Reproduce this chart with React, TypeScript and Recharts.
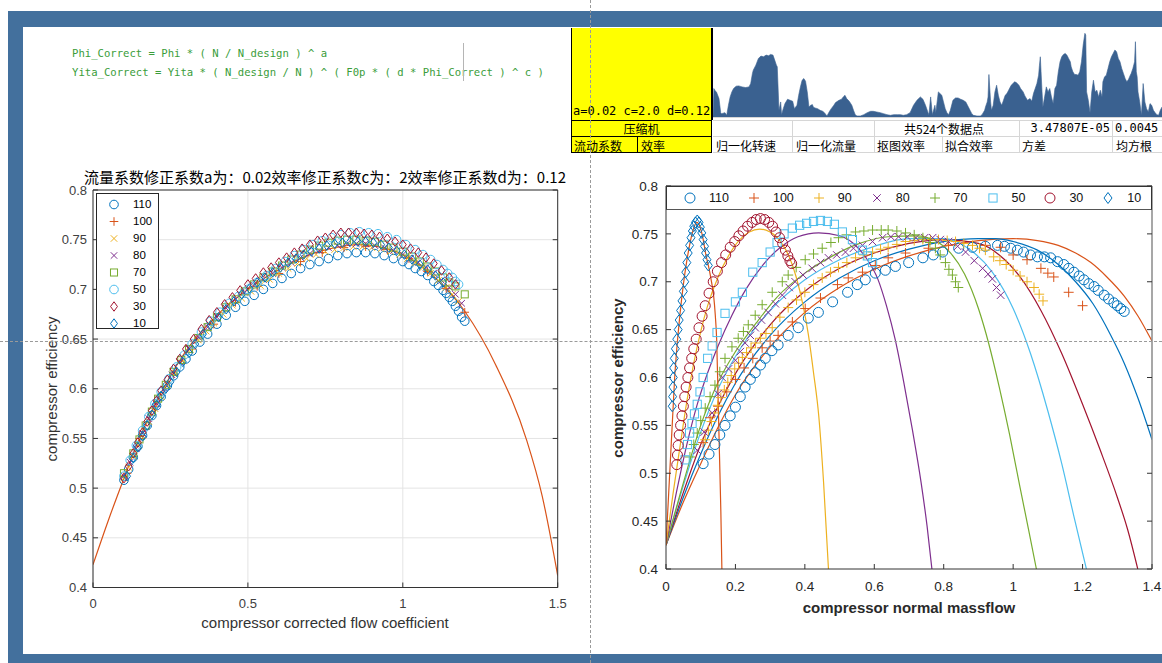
import React from 'react';
import { ComposedChart, Scatter, Line, XAxis, YAxis, CartesianGrid, AreaChart, Area, Legend, Label } from 'recharts';

type Pt = [number, number];

// ---------- series meta ----------
const SPEED_LABELS = ['110', '100', '90', '80', '70', '50', '30', '10'];
const SERIES_COLORS = ['#0072BD', '#D95319', '#EDB120', '#7E2F8E', '#77AC30', '#4DBEEE', '#A2142F', '#0072BD'];
const LEFT_MARKERS = ['o', '+', 'x', 'x', 's', 'o', 'd', 'd'];
const RIGHT_MARKERS = ['o', '+', '+', 'x', '+', 's', 'o', 'd'];
const RIGHT_FIT_COLORS = ['#D95319', '#0072BD', '#A2142F', '#4DBEEE', '#77AC30', '#7E2F8E', '#EDB120', '#D95319'];

const Y_TICKS = [0.4, 0.45, 0.5, 0.55, 0.6, 0.65, 0.7, 0.75, 0.8];
const LEFT_X_TICKS = [0, 0.5, 1, 1.5];
const RIGHT_X_TICKS = [0, 0.2, 0.4, 0.6, 0.8, 1, 1.2, 1.4];

// ---------- left chart (corrected) ----------
const L_110: Pt[] = [[0.10,0.508],[0.115,0.519],[0.13,0.531],[0.145,0.542],[0.16,0.553],[0.175,0.563],[0.19,0.573],[0.205,0.583],[0.22,0.592],[0.24,0.603],[0.26,0.613],[0.28,0.622],[0.30,0.630],[0.32,0.638],[0.345,0.647],[0.37,0.655],[0.40,0.665],[0.43,0.674],[0.46,0.682],[0.49,0.688],[0.52,0.694],[0.55,0.700],[0.58,0.706],[0.61,0.711],[0.64,0.716],[0.67,0.721],[0.70,0.725],[0.73,0.728],[0.76,0.731],[0.79,0.734],[0.82,0.736],[0.85,0.737],[0.88,0.737],[0.91,0.736],[0.94,0.734],[0.97,0.731],[1.00,0.728],[1.02,0.725],[1.04,0.721],[1.06,0.718],[1.08,0.714],[1.10,0.708],[1.115,0.704],[1.13,0.699],[1.14,0.696],[1.15,0.692],[1.16,0.688],[1.17,0.683],[1.18,0.678],[1.19,0.672],[1.20,0.668]];
const L_100: Pt[] = [[0.11,0.515],[0.15,0.550],[0.20,0.582],[0.26,0.614],[0.32,0.640],[0.39,0.665],[0.46,0.687],[0.53,0.703],[0.60,0.716],[0.67,0.728],[0.74,0.737],[0.81,0.742],[0.88,0.743],[0.95,0.740],[1.02,0.731],[1.08,0.718],[1.14,0.701],[1.20,0.677]];
const L_90: Pt[] = [[0.10,0.510],[0.115,0.521],[0.13,0.532],[0.145,0.543],[0.16,0.553],[0.18,0.567],[0.20,0.580],[0.22,0.592],[0.24,0.604],[0.265,0.616],[0.29,0.628],[0.315,0.639],[0.34,0.649],[0.365,0.658],[0.39,0.666],[0.42,0.675],[0.45,0.684],[0.48,0.691],[0.51,0.698],[0.54,0.704],[0.57,0.710],[0.60,0.716],[0.63,0.721],[0.66,0.726],[0.69,0.731],[0.72,0.735],[0.75,0.738],[0.78,0.740],[0.81,0.742],[0.84,0.743],[0.87,0.743],[0.90,0.742],[0.93,0.741],[0.96,0.738],[0.99,0.735],[1.015,0.731],[1.04,0.727],[1.065,0.722],[1.09,0.716],[1.115,0.709],[1.14,0.702],[1.16,0.695],[1.18,0.688]];
const L_80: Pt[] = [[0.10,0.512],[0.12,0.526],[0.14,0.540],[0.16,0.555],[0.18,0.570],[0.205,0.585],[0.23,0.600],[0.255,0.614],[0.28,0.627],[0.31,0.640],[0.34,0.652],[0.37,0.662],[0.40,0.672],[0.43,0.681],[0.46,0.690],[0.49,0.697],[0.52,0.704],[0.55,0.710],[0.58,0.716],[0.61,0.722],[0.64,0.727],[0.67,0.732],[0.70,0.736],[0.73,0.739],[0.76,0.742],[0.79,0.744],[0.82,0.746],[0.85,0.746],[0.88,0.746],[0.91,0.744],[0.94,0.742],[0.97,0.739],[1.00,0.735],[1.025,0.731],[1.05,0.727],[1.075,0.722],[1.10,0.716],[1.125,0.709],[1.15,0.702],[1.17,0.695],[1.19,0.686]];
const L_70: Pt[] = [[0.10,0.515],[0.13,0.535],[0.15,0.549],[0.17,0.563],[0.19,0.577],[0.21,0.590],[0.235,0.604],[0.26,0.617],[0.285,0.629],[0.31,0.640],[0.34,0.651],[0.37,0.662],[0.40,0.672],[0.43,0.682],[0.46,0.690],[0.49,0.698],[0.52,0.705],[0.55,0.712],[0.58,0.718],[0.61,0.724],[0.64,0.730],[0.67,0.735],[0.70,0.740],[0.73,0.744],[0.76,0.747],[0.79,0.749],[0.82,0.750],[0.85,0.750],[0.88,0.749],[0.91,0.748],[0.94,0.745],[0.97,0.742],[1.00,0.738],[1.03,0.733],[1.055,0.728],[1.08,0.723],[1.105,0.718],[1.13,0.712],[1.15,0.707],[1.17,0.703],[1.20,0.695]];
const L_50: Pt[] = [[0.10,0.512],[0.12,0.528],[0.14,0.543],[0.16,0.558],[0.18,0.572],[0.20,0.585],[0.22,0.597],[0.245,0.610],[0.27,0.622],[0.295,0.634],[0.32,0.645],[0.35,0.657],[0.38,0.668],[0.41,0.677],[0.44,0.686],[0.47,0.693],[0.50,0.700],[0.53,0.707],[0.56,0.714],[0.59,0.721],[0.62,0.728],[0.65,0.734],[0.68,0.740],[0.71,0.745],[0.74,0.749],[0.77,0.752],[0.80,0.755],[0.83,0.757],[0.86,0.758],[0.89,0.757],[0.92,0.756],[0.95,0.753],[0.98,0.750],[1.01,0.745],[1.04,0.740],[1.065,0.735],[1.09,0.730],[1.11,0.725],[1.13,0.720],[1.145,0.716],[1.16,0.712],[1.17,0.708],[1.18,0.705]];
const L_30: Pt[] = [[0.10,0.510],[0.115,0.522],[0.13,0.535],[0.145,0.546],[0.16,0.556],[0.175,0.567],[0.19,0.578],[0.205,0.588],[0.22,0.598],[0.24,0.609],[0.26,0.620],[0.28,0.630],[0.30,0.640],[0.325,0.650],[0.35,0.660],[0.375,0.669],[0.40,0.677],[0.425,0.685],[0.45,0.692],[0.475,0.699],[0.50,0.705],[0.525,0.711],[0.55,0.717],[0.575,0.722],[0.60,0.727],[0.625,0.732],[0.65,0.737],[0.675,0.741],[0.70,0.745],[0.725,0.749],[0.75,0.752],[0.775,0.755],[0.80,0.757],[0.825,0.757],[0.85,0.757],[0.875,0.756],[0.90,0.755],[0.925,0.753],[0.95,0.751],[0.975,0.748],[1.00,0.745],[1.025,0.741],[1.05,0.737],[1.075,0.732],[1.10,0.726],[1.125,0.719],[1.15,0.712],[1.17,0.705]];
const L_10: Pt[] = [[0.11,0.512],[0.13,0.530],[0.145,0.541],[0.16,0.552],[0.175,0.563],[0.19,0.574],[0.205,0.584],[0.22,0.593],[0.235,0.600],[0.25,0.607],[0.27,0.617],[0.29,0.627],[0.31,0.636],[0.33,0.645],[0.355,0.655],[0.38,0.664],[0.405,0.672],[0.43,0.680],[0.455,0.688],[0.48,0.695],[0.505,0.701],[0.53,0.707],[0.555,0.712],[0.58,0.717],[0.605,0.722],[0.63,0.727],[0.655,0.731],[0.68,0.735],[0.705,0.738],[0.73,0.741],[0.755,0.744],[0.78,0.746],[0.805,0.747],[0.83,0.748],[0.855,0.748],[0.88,0.748],[0.905,0.747],[0.93,0.745],[0.955,0.742],[0.98,0.739],[1.005,0.735],[1.03,0.730],[1.055,0.725],[1.08,0.720],[1.105,0.714],[1.13,0.707]];
const L_FIT: Pt[] = [[0,0.423],[0.05,0.468],[0.10,0.510],[0.15,0.550],[0.20,0.584],[0.25,0.613],[0.30,0.638],[0.40,0.674],[0.50,0.700],[0.60,0.720],[0.70,0.735],[0.80,0.743],[0.85,0.745],[0.90,0.744],[1.00,0.735],[1.10,0.713],[1.20,0.678],[1.30,0.624],[1.40,0.548],[1.45,0.492],[1.50,0.412]];

// ---------- right chart (raw) ----------
const R_110: Pt[] = [[0.107,0.510],[0.124,0.520],[0.141,0.530],[0.155,0.540],[0.170,0.550],[0.185,0.560],[0.200,0.569],[0.214,0.580],[0.228,0.590],[0.243,0.598],[0.257,0.605],[0.272,0.613],[0.286,0.620],[0.305,0.628],[0.323,0.634],[0.352,0.644],[0.381,0.652],[0.410,0.662],[0.439,0.668],[0.480,0.679],[0.523,0.689],[0.551,0.697],[0.574,0.702],[0.603,0.709],[0.632,0.712],[0.661,0.716],[0.699,0.720],[0.740,0.725],[0.770,0.728],[0.797,0.731],[0.843,0.735],[0.883,0.736],[0.920,0.737],[0.955,0.738],[0.975,0.737],[0.993,0.735],[1.012,0.733],[1.030,0.731],[1.050,0.728],[1.070,0.726],[1.090,0.726],[1.108,0.725],[1.128,0.721],[1.146,0.718],[1.160,0.714],[1.175,0.710],[1.190,0.706],[1.204,0.702],[1.218,0.698],[1.233,0.695],[1.245,0.691],[1.262,0.686],[1.275,0.682],[1.290,0.678],[1.300,0.675],[1.310,0.672],[1.320,0.669]];
const R_100: Pt[] = [[0.107,0.532],[0.127,0.558],[0.150,0.570],[0.175,0.585],[0.200,0.598],[0.225,0.610],[0.250,0.620],[0.277,0.631],[0.300,0.638],[0.323,0.644],[0.364,0.658],[0.401,0.672],[0.445,0.683],[0.494,0.697],[0.525,0.704],[0.566,0.710],[0.603,0.717],[0.640,0.725],[0.690,0.730],[0.756,0.735],[0.814,0.738],[0.920,0.738],[0.964,0.736],[1.000,0.728],[1.040,0.723],[1.080,0.714],[1.100,0.709],[1.117,0.705],[1.160,0.689],[1.200,0.675]];
const R_90: Pt[] = [[0.113,0.535],[0.122,0.545],[0.131,0.554],[0.140,0.563],[0.149,0.571],[0.158,0.579],[0.168,0.587],[0.178,0.595],[0.188,0.602],[0.198,0.609],[0.209,0.615],[0.220,0.621],[0.232,0.626],[0.245,0.631],[0.258,0.636],[0.272,0.641],[0.288,0.646],[0.306,0.652],[0.328,0.663],[0.352,0.673],[0.376,0.681],[0.400,0.689],[0.425,0.697],[0.450,0.704],[0.474,0.710],[0.497,0.715],[0.521,0.720],[0.546,0.725],[0.570,0.728],[0.595,0.731],[0.618,0.734],[0.640,0.736],[0.665,0.739],[0.690,0.742],[0.715,0.743],[0.740,0.744],[0.762,0.744],[0.785,0.744],[0.810,0.743],[0.834,0.742],[0.858,0.740],[0.883,0.738],[0.903,0.735],[0.920,0.733],[0.944,0.726],[0.962,0.722],[0.980,0.718],[1.000,0.712],[1.020,0.706],[1.040,0.700],[1.060,0.694],[1.075,0.687],[1.086,0.680]];
const R_80: Pt[] = [[0.090,0.524],[0.110,0.543],[0.133,0.563],[0.150,0.583],[0.162,0.600],[0.180,0.609],[0.200,0.618],[0.214,0.627],[0.228,0.636],[0.243,0.644],[0.257,0.652],[0.275,0.660],[0.294,0.668],[0.315,0.677],[0.335,0.686],[0.355,0.694],[0.372,0.700],[0.395,0.707],[0.421,0.714],[0.445,0.720],[0.468,0.725],[0.492,0.728],[0.517,0.731],[0.540,0.735],[0.566,0.738],[0.595,0.742],[0.624,0.746],[0.648,0.747],[0.670,0.747],[0.695,0.747],[0.720,0.746],[0.745,0.746],[0.768,0.746],[0.790,0.744],[0.814,0.742],[0.840,0.737],[0.863,0.731],[0.888,0.722],[0.912,0.714],[0.928,0.708],[0.940,0.703],[0.952,0.694],[0.964,0.686]];
const R_70: Pt[] = [[0.069,0.517],[0.080,0.530],[0.090,0.542],[0.100,0.555],[0.113,0.568],[0.127,0.580],[0.141,0.592],[0.155,0.606],[0.170,0.620],[0.190,0.632],[0.208,0.641],[0.223,0.648],[0.237,0.655],[0.257,0.665],[0.277,0.676],[0.306,0.689],[0.335,0.700],[0.352,0.707],[0.375,0.715],[0.401,0.723],[0.425,0.729],[0.450,0.735],[0.475,0.741],[0.497,0.746],[0.520,0.749],[0.546,0.752],[0.570,0.753],[0.595,0.754],[0.620,0.754],[0.640,0.754],[0.665,0.753],[0.690,0.751],[0.715,0.749],[0.740,0.746],[0.760,0.741],[0.776,0.735],[0.790,0.728],[0.805,0.720],[0.815,0.713],[0.825,0.707],[0.834,0.700],[0.842,0.694]];
const R_50: Pt[] = [[0.055,0.514],[0.062,0.530],[0.068,0.542],[0.075,0.552],[0.082,0.562],[0.090,0.572],[0.098,0.585],[0.107,0.600],[0.120,0.620],[0.133,0.633],[0.147,0.647],[0.170,0.667],[0.200,0.679],[0.220,0.689],[0.250,0.710],[0.277,0.720],[0.300,0.731],[0.320,0.741],[0.340,0.750],[0.364,0.756],[0.385,0.759],[0.405,0.761],[0.425,0.763],[0.445,0.764],[0.465,0.763],[0.485,0.760],[0.508,0.752],[0.537,0.744],[0.566,0.733],[0.580,0.727],[0.595,0.720]];
const R_30: Pt[] = [[0.031,0.509],[0.033,0.519],[0.035,0.529],[0.038,0.540],[0.042,0.550],[0.046,0.560],[0.050,0.570],[0.054,0.580],[0.058,0.590],[0.063,0.600],[0.068,0.610],[0.074,0.620],[0.080,0.630],[0.087,0.640],[0.095,0.652],[0.104,0.664],[0.113,0.675],[0.124,0.688],[0.136,0.700],[0.148,0.711],[0.160,0.720],[0.172,0.728],[0.185,0.736],[0.198,0.742],[0.210,0.748],[0.222,0.753],[0.235,0.758],[0.248,0.762],[0.260,0.765],[0.272,0.766],[0.284,0.765],[0.296,0.762],[0.307,0.758],[0.317,0.752],[0.327,0.746],[0.336,0.740],[0.344,0.733],[0.351,0.727],[0.357,0.722],[0.362,0.719]];
const R_10: Pt[] = [[0.018,0.570],[0.019,0.580],[0.020,0.590],[0.021,0.600],[0.022,0.610],[0.024,0.620],[0.027,0.630],[0.031,0.640],[0.035,0.650],[0.038,0.660],[0.042,0.670],[0.046,0.680],[0.050,0.690],[0.054,0.700],[0.057,0.710],[0.060,0.720],[0.064,0.730],[0.068,0.738],[0.072,0.746],[0.076,0.753],[0.080,0.758],[0.085,0.762],[0.090,0.764],[0.095,0.762],[0.099,0.757],[0.103,0.751],[0.107,0.744],[0.111,0.737],[0.114,0.730],[0.118,0.723],[0.122,0.717]];

const R_FIT_110: Pt[] = [[0,0.425],[0.05,0.47],[0.1,0.51],[0.15,0.548],[0.2,0.582],[0.3,0.632],[0.4,0.668],[0.5,0.694],[0.6,0.713],[0.7,0.727],[0.8,0.737],[0.9,0.743],[1.0,0.745],[1.07,0.743],[1.13,0.738],[1.18,0.73],[1.224,0.72],[1.27,0.705],[1.32,0.685],[1.36,0.664],[1.40,0.638]];
const R_FIT_100: Pt[] = [[0,0.425],[0.05,0.475],[0.1,0.52],[0.15,0.56],[0.2,0.594],[0.3,0.644],[0.4,0.679],[0.5,0.704],[0.6,0.722],[0.7,0.734],[0.8,0.742],[0.9,0.745],[0.95,0.745],[1.0,0.742],[1.07,0.733],[1.13,0.718],[1.18,0.70],[1.23,0.677],[1.28,0.645],[1.32,0.615],[1.36,0.578],[1.40,0.535]];
const R_FIT_90: Pt[] = [[0,0.425],[0.05,0.48],[0.1,0.53],[0.15,0.57],[0.2,0.604],[0.3,0.655],[0.4,0.69],[0.5,0.714],[0.6,0.73],[0.7,0.74],[0.8,0.744],[0.9,0.74],[0.96,0.728],[1.02,0.705],[1.08,0.67],[1.14,0.625],[1.2,0.572],[1.25,0.525],[1.3,0.475],[1.33,0.441],[1.359,0.40]];
const R_FIT_80: Pt[] = [[0,0.425],[0.05,0.487],[0.1,0.543],[0.15,0.588],[0.2,0.622],[0.3,0.670],[0.4,0.702],[0.5,0.723],[0.6,0.737],[0.7,0.745],[0.8,0.745],[0.87,0.735],[0.94,0.71],[1.0,0.672],[1.05,0.625],[1.10,0.565],[1.14,0.51],[1.175,0.455],[1.211,0.40]];
const R_FIT_70: Pt[] = [[0,0.425],[0.05,0.49],[0.1,0.55],[0.15,0.595],[0.2,0.627],[0.26,0.657],[0.32,0.684],[0.40,0.709],[0.48,0.727],[0.55,0.739],[0.64,0.747],[0.72,0.748],[0.78,0.742],[0.82,0.730],[0.86,0.708],[0.90,0.672],[0.93,0.635],[0.96,0.59],[0.99,0.54],[1.02,0.485],[1.045,0.44],[1.067,0.40]];
const R_FIT_50: Pt[] = [[0,0.425],[0.03,0.48],[0.06,0.53],[0.09,0.572],[0.12,0.605],[0.15,0.633],[0.19,0.665],[0.23,0.692],[0.28,0.718],[0.33,0.736],[0.38,0.747],[0.44,0.751],[0.50,0.748],[0.54,0.74],[0.58,0.723],[0.61,0.703],[0.635,0.675],[0.66,0.64],[0.685,0.595],[0.71,0.545],[0.735,0.49],[0.752,0.445],[0.766,0.40]];
const R_FIT_30: Pt[] = [[0,0.425],[0.02,0.478],[0.04,0.527],[0.06,0.575],[0.08,0.615],[0.10,0.648],[0.12,0.675],[0.15,0.705],[0.18,0.727],[0.21,0.743],[0.24,0.752],[0.27,0.755],[0.30,0.752],[0.33,0.742],[0.355,0.726],[0.375,0.705],[0.395,0.675],[0.41,0.645],[0.425,0.605],[0.44,0.56],[0.454,0.49],[0.468,0.40]];
const R_FIT_10: Pt[] = [[0,0.425],[0.005,0.46],[0.01,0.495],[0.015,0.53],[0.02,0.565],[0.025,0.60],[0.03,0.625],[0.04,0.665],[0.05,0.697],[0.06,0.722],[0.07,0.742],[0.08,0.756],[0.088,0.762],[0.095,0.760],[0.105,0.748],[0.115,0.728],[0.125,0.712],[0.132,0.698],[0.137,0.686],[0.142,0.665],[0.146,0.639],[0.150,0.58],[0.154,0.52],[0.158,0.46],[0.161,0.40]];

// ---------- residual strip (data point index, height) ----------
const HIST: Pt[] = [[0,0],[1,85],[2,80],[4,75],[7,55],[9,13],[10,10],[14,13],[16,5],[18,35],[20,60],[22,75],[24,85],[27,92],[30,93],[34,90],[38,88],[42,90],[44,100],[46,130],[47,140],[50,155],[53,175],[56,182],[59,180],[62,185],[65,183],[67,187],[70,185],[72,170],[74,155],[75,150],[77,20],[79,45],[80,7],[82,25],[84,40],[87,53],[90,50],[93,47],[95,25],[98,35],[100,65],[102,90],[104,110],[106,115],[108,107],[110,75],[112,30],[114,35],[116,37],[117,30],[119,27],[122,25],[125,20],[128,17],[130,13],[133,3],[136,17],[138,25],[141,35],[143,43],[147,50],[150,53],[152,60],[154,65],[156,55],[159,47],[162,35],[164,20],[166,7],[168,3],[172,3],[176,7],[180,13],[184,17],[187,17],[191,15],[195,13],[199,10],[203,7],[207,5],[211,7],[215,7],[219,7],[222,5],[226,7],[230,13],[234,35],[238,50],[242,60],[245,53],[248,35],[251,13],[252,7],[254,60],[256,7],[259,35],[260,13],[263,75],[267,65],[269,45],[271,25],[273,13],[275,7],[277,20],[279,40],[280,50],[283,57],[286,57],[289,53],[292,50],[295,45],[297,35],[300,20],[302,10],[304,5],[308,3],[312,3],[314,7],[317,20],[318,30],[320,45],[321,60],[322,127],[324,45],[325,20],[327,35],[329,75],[331,95],[333,65],[335,45],[337,35],[339,50],[341,65],[343,70],[345,80],[348,95],[352,105],[354,103],[357,95],[359,85],[362,75],[364,63],[367,50],[370,55],[372,47],[374,70],[376,85],[378,100],[380,125],[381,155],[382,180],[384,75],[385,30],[387,60],[389,90],[391,75],[393,85],[395,60],[397,40],[399,85],[401,95],[403,135],[405,165],[407,180],[409,187],[411,190],[413,185],[415,175],[417,165],[418,150],[420,135],[422,127],[424,127],[426,125],[428,135],[430,165],[432,215],[434,250],[435,245],[436,75],[438,50],[440,13],[442,75],[444,110],[446,75],[448,80],[450,60],[452,80],[454,60],[455,105],[457,120],[459,125],[461,145],[463,165],[465,180],[467,190],[469,200],[471,195],[473,175],[475,165],[477,145],[479,130],[481,115],[483,105],[485,113],[487,125],[488,130],[490,145],[492,165],[493,225],[494,135],[495,120],[496,75],[498,45],[500,5],[502,100],[504,45],[506,25],[508,15],[510,40],[512,35],[514,20],[516,13],[518,7],[520,5],[522,20],[524,30]];

// ---------- texts ----------
const FORMULA_LINES = ['Phi_Correct = Phi * ( N / N_design ) ^ a', 'Yita_Correct = Yita * ( N_design / N ) ^ ( F0p * ( d * Phi_Correct ) ^ c )'];
const PARAM_TEXT = 'a=0.02 c=2.0 d=0.12';
const LEFT_TITLE = '流量系数修正系数a为：0.02效率修正系数c为：2效率修正系数d为：0.12';

const LEFT_SERIES: Pt[][] = [L_110, L_100, L_90, L_80, L_70, L_50, L_30, L_10];
const RIGHT_SERIES: Pt[][] = [R_110, R_100, R_90, R_80, R_70, R_50, R_30, R_10];
const RIGHT_FITS: Pt[][] = [R_FIT_110, R_FIT_100, R_FIT_90, R_FIT_80, R_FIT_70, R_FIT_50, R_FIT_30, R_FIT_10];

const toXY = (a: Pt[]) => a.map(([x, y]) => ({ x, y }));
const HIST_DATA = HIST.map(([i, h]) => ({ i, h }));

const SANS = '"Liberation Sans", Arial, sans-serif';
const CJK = '"Noto Sans CJK SC", "Noto Sans", sans-serif';
const MONO = '"DejaVu Sans Mono", "Liberation Mono", monospace';

const fmt = (v: number) => String(parseFloat(Number(v).toFixed(2)));

function MarkerGlyph({ cx, cy, kind, color, r }: any) {
  if (typeof cx !== 'number' || typeof cy !== 'number' || isNaN(cx) || isNaN(cy)) return null;
  const common = { fill: 'none', stroke: color, strokeWidth: 1 };
  if (kind === 'o') return <circle cx={cx} cy={cy} r={r} {...common} />;
  if (kind === '+') return <path d={`M${cx - r},${cy}H${cx + r}M${cx},${cy - r}V${cy + r}`} {...common} />;
  if (kind === 'x') {
    const d = r * 0.75;
    return <path d={`M${cx - d},${cy - d}L${cx + d},${cy + d}M${cx - d},${cy + d}L${cx + d},${cy - d}`} {...common} />;
  }
  if (kind === 's') {
    const d = r * 0.82;
    return <rect x={cx - d} y={cy - d} width={2 * d} height={2 * d} {...common} />;
  }
  return <path d={`M${cx},${cy - r * 1.1}L${cx + r * 0.8},${cy}L${cx},${cy + r * 1.1}L${cx - r * 0.8},${cy}Z`} {...common} />;
}

// inward tick renderers
const leftTick = (fs: number, color: string, margin: number, gap: number) => (p: any) => {
  const ax = p.x + margin;
  return (
    <g>
      <line x1={ax} x2={ax + 5} y1={p.y} y2={p.y} stroke="#333" strokeWidth={1} />
      <text x={ax - gap} y={p.y} dy="0.35em" textAnchor="end" fontSize={fs} fill={color} fontFamily={SANS}>{fmt(p.payload.value)}</text>
    </g>
  );
};
const bottomTick = (fs: number, color: string, margin: number, gap: number) => (p: any) => {
  const ay = p.y - margin;
  return (
    <g>
      <line x1={p.x} x2={p.x} y1={ay} y2={ay - 5} stroke="#333" strokeWidth={1} />
      <text x={p.x} y={ay + gap} dy="0.35em" textAnchor="middle" fontSize={fs} fill={color} fontFamily={SANS}>{fmt(p.payload.value)}</text>
    </g>
  );
};
const rightTick = (p: any) => <line x1={p.x} x2={p.x - 5} y1={p.y} y2={p.y} stroke="#333" strokeWidth={1} />;
const topTick = (p: any) => <line x1={p.x} x2={p.x} y1={p.y} y2={p.y + 5} stroke="#333" strokeWidth={1} />;

function LeftLegendBox() {
  return (
    <div style={{ width: 63, height: 136, boxSizing: 'border-box', border: '1px solid #262626', background: '#fff', paddingTop: 2 }}>
      {SPEED_LABELS.map((s, i) => (
        <div key={s} style={{ display: 'flex', alignItems: 'center', height: 17 }}>
          <svg width={36} height={17} style={{ display: 'block' }}>
            <MarkerGlyph cx={17} cy={8.5} kind={LEFT_MARKERS[i]} color={SERIES_COLORS[i]} r={4.3} />
          </svg>
          <span style={{ fontSize: 11.5, fontFamily: SANS, color: '#000', lineHeight: '17px' }}>{s}</span>
        </div>
      ))}
    </div>
  );
}

function RightLegendBox() {
  return (
    <div style={{ width: 486, height: 24, boxSizing: 'border-box', border: '1.5px solid #333', borderBottom: '1.5px solid #555', background: '#fff', display: 'flex', alignItems: 'center', paddingLeft: 13 }}>
      {SPEED_LABELS.map((s, i) => (
        <div key={s} style={{ display: 'flex', alignItems: 'center', marginRight: 15 }}>
          <svg width={20} height={20} style={{ display: 'block' }}>
            <MarkerGlyph cx={10} cy={10} kind={RIGHT_MARKERS[i]} color={SERIES_COLORS[i]} r={5} />
          </svg>
          <span style={{ marginLeft: 9, fontSize: 12.5, fontFamily: SANS, color: '#111' }}>{s}</span>
        </div>
      ))}
    </div>
  );
}

function LeftChart() {
  const W = 540, H = 480;
  return (
    <div style={{ position: 'absolute', left: 40, top: 160, width: W, height: H }}>
      <ComposedChart width={W} height={H} margin={{ top: 29, right: 21.3, bottom: 12.5, left: 0 }}>
        <CartesianGrid stroke="#e4e4e4" strokeWidth={1} />
        <XAxis xAxisId={0} dataKey="x" type="number" domain={[0, 1.5]} ticks={LEFT_X_TICKS} interval={0} height={40}
          allowDataOverflow tickSize={0} tickMargin={0} tickLine={false} axisLine={{ stroke: '#333' }}
          tick={bottomTick(13, '#404040', 0, 16)}>
          <Label content={() => (
            <text x={285} y={462} textAnchor="middle" dominantBaseline="central" fontSize={15} fill="#333" fontFamily={SANS}>compressor corrected flow coefficient</text>
          )} />
        </XAxis>
        <XAxis xAxisId="top" orientation="top" type="number" domain={[0, 1.5]} ticks={LEFT_X_TICKS} interval={0} height={1}
          allowDataOverflow tickSize={0} tickMargin={0} tickLine={false} axisLine={{ stroke: '#333' }} tick={topTick} />
        <YAxis yAxisId={0} dataKey="y" type="number" domain={[0.4, 0.8]} ticks={Y_TICKS} interval={0} width={53}
          allowDataOverflow tickSize={0} tickMargin={6} tickLine={false} axisLine={{ stroke: '#333' }}
          tick={leftTick(13, '#404040', 6, 6)}>
          <Label content={() => (
            <text x={11} y={229} transform="rotate(-90 11 229)" textAnchor="middle" dominantBaseline="central" fontSize={15} fill="#333" fontFamily={SANS}>compressor efficiency</text>
          )} />
        </YAxis>
        <YAxis yAxisId="right" orientation="right" type="number" domain={[0.4, 0.8]} ticks={Y_TICKS} interval={0} width={1}
          allowDataOverflow tickSize={0} tickMargin={0} tickLine={false} axisLine={{ stroke: '#333' }} tick={rightTick} />
        {LEFT_SERIES.map((s, i) => (
          <Scatter key={'l' + i} name={SPEED_LABELS[i]} data={toXY(s)} dataKey="y" isAnimationActive={false}
            fill={SERIES_COLORS[i]}
            shape={(p: any) => <MarkerGlyph cx={p.cx} cy={p.cy} kind={LEFT_MARKERS[i]} color={SERIES_COLORS[i]} r={4.3} />} />
        ))}
        <Line data={toXY(L_FIT)} dataKey="y" type="monotone" stroke="#D95319" strokeWidth={1.2} dot={false}
          isAnimationActive={false} legendType="none" />
        <Legend layout="vertical" align="center" verticalAlign="middle"
          wrapperStyle={{ position: 'absolute', left: 56, top: 33, width: 63, height: 136 }}
          content={() => <LeftLegendBox />} />
      </ComposedChart>
    </div>
  );
}

function RightChart() {
  const W = 562, H = 480;
  return (
    <div style={{ position: 'absolute', left: 600, top: 160, width: W, height: H }}>
      <ComposedChart width={W} height={H} margin={{ top: 25, right: 9, bottom: 21, left: 0 }}>
        <XAxis xAxisId={0} dataKey="x" type="number" domain={[0, 1.4]} ticks={RIGHT_X_TICKS} interval={0} height={50}
          allowDataOverflow tickSize={0} tickMargin={0} tickLine={false} axisLine={{ stroke: '#333' }}
          tick={bottomTick(13.5, '#262626', 0, 17)}>
          <Label content={() => (
            <text x={309} y={447} textAnchor="middle" dominantBaseline="central" fontSize={15} fontWeight="bold" fill="#2a2a2a" fontFamily={SANS}>compressor normal massflow</text>
          )} />
        </XAxis>
        <XAxis xAxisId="top" orientation="top" type="number" domain={[0, 1.4]} ticks={RIGHT_X_TICKS} interval={0} height={1}
          allowDataOverflow tickSize={0} tickMargin={0} tickLine={false} axisLine={{ stroke: '#333' }} tick={topTick} />
        <YAxis yAxisId={0} dataKey="y" type="number" domain={[0.4, 0.8]} ticks={Y_TICKS} interval={0} width={66}
          allowDataOverflow tickSize={0} tickMargin={8} tickLine={false} axisLine={{ stroke: '#333' }}
          tick={leftTick(13.5, '#262626', 8, 8)}>
          <Label content={() => (
            <text x={17} y={218} transform="rotate(-90 17 218)" textAnchor="middle" dominantBaseline="central" fontSize={15} fontWeight="bold" fill="#2a2a2a" fontFamily={SANS}>compressor efficiency</text>
          )} />
        </YAxis>
        <YAxis yAxisId="right" orientation="right" type="number" domain={[0.4, 0.8]} ticks={Y_TICKS} interval={0} width={1}
          allowDataOverflow tickSize={0} tickMargin={0} tickLine={false} axisLine={{ stroke: '#8a8a8a', strokeWidth: 1.5 }} tick={rightTick} />
        {RIGHT_SERIES.map((s, i) => (
          <Scatter key={'r' + i} name={SPEED_LABELS[i]} data={toXY(s)} dataKey="y" isAnimationActive={false}
            fill={SERIES_COLORS[i]}
            shape={(p: any) => <MarkerGlyph cx={p.cx} cy={p.cy} kind={RIGHT_MARKERS[i]} color={SERIES_COLORS[i]} r={5} />} />
        ))}
        {RIGHT_FITS.map((f, i) => (
          <Line key={'f' + i} data={toXY(f)} dataKey="y" type="monotone" stroke={RIGHT_FIT_COLORS[i]} strokeWidth={1.2}
            dot={false} isAnimationActive={false} legendType="none" />
        ))}
        <Legend layout="vertical" align="center" verticalAlign="middle"
          wrapperStyle={{ position: 'absolute', left: 66, top: 26, width: 486, height: 24 }}
          content={() => <RightLegendBox />} />
      </ComposedChart>
    </div>
  );
}

function ResidualStrip() {
  return (
    <div style={{ position: 'absolute', left: 713, top: 30, width: 449, height: 87 }}>
      <AreaChart width={449} height={87} data={HIST_DATA} margin={{ top: 0, right: 0, bottom: 0, left: 0 }}>
        <XAxis dataKey="i" type="number" domain={[0, 524]} hide allowDataOverflow />
        <YAxis type="number" domain={[0, 260]} hide allowDataOverflow />
        <Area type="linear" dataKey="h" stroke="#3A6190" strokeWidth={0.6} fill="#3A6190" fillOpacity={1} isAnimationActive={false} />
      </AreaChart>
    </div>
  );
}

const abs = (l: number, t: number, w: number, h: number, extra: any = {}) =>
  ({ position: 'absolute', left: l, top: t, width: w, height: h, ...extra } as React.CSSProperties);

function TableArea() {
  const cell = { fontFamily: CJK, fontSize: 12, color: '#000', lineHeight: '17px', whiteSpace: 'nowrap' as const };
  const mono = { fontFamily: MONO, fontSize: 12, color: '#000', lineHeight: '17px', whiteSpace: 'nowrap' as const };
  const R1 = 119.5, R2 = 137;
  const vLines = [792, 874, 1019, 1112];
  return (
    <>
      {/* yellow block */}
      <div style={abs(571, 28, 141, 125, { background: '#FFFF00', borderLeft: '1px solid #000', borderRight: '1px solid #000', boxSizing: 'border-box' })} />
      <div style={abs(571, 120, 141, 1, { background: '#000' })} />
      <div style={abs(571, 136, 141, 1, { background: '#000' })} />
      <div style={abs(571, 152, 141, 1, { background: '#000' })} />
      <div style={abs(637, 137, 1, 15, { background: '#000' })} />
      <div style={abs(573, 104, 138, 15, { ...mono, lineHeight: '15px' })}>{PARAM_TEXT}</div>
      <div style={abs(571, R1, 141, 17, { ...cell, textAlign: 'center' })}>压缩机</div>
      <div style={abs(574, R2, 62, 17, cell)}>流动系数</div>
      <div style={abs(641, R2, 60, 17, cell)}>效率</div>
      {/* grid of the sheet */}
      <div style={abs(713, 117, 449, 1, { background: '#d6d6d6' })} />
      <div style={abs(713, 120, 449, 1, { background: '#d6d6d6' })} />
      <div style={abs(713, 136, 449, 1, { background: '#d6d6d6' })} />
      <div style={abs(713, 152, 449, 1, { background: '#d6d6d6' })} />
      {vLines.map((x) => <div key={x} style={abs(x, 120, 1, 33, { background: '#d6d6d6' })} />)}
      <div style={abs(942, 137, 1, 16, { background: '#d6d6d6' })} />
      <div style={abs(904, R1, 112, 17, cell)}>共524个数据点</div>
      <div style={abs(1020, R1, 90, 17, { ...mono, textAlign: 'right' })}>3.47807E-05</div>
      <div style={abs(1115, R1, 46, 17, mono)}>0.0045</div>
      <div style={abs(716, R2, 75, 17, cell)}>归一化转速</div>
      <div style={abs(796, R2, 77, 17, cell)}>归一化流量</div>
      <div style={abs(877, R2, 64, 17, cell)}>抠图效率</div>
      <div style={abs(945, R2, 73, 17, cell)}>拟合效率</div>
      <div style={abs(1022, R2, 60, 17, cell)}>方差</div>
      <div style={abs(1116, R2, 45, 17, cell)}>均方根</div>
    </>
  );
}

export default function App() {
  return (
    <div style={{ position: 'absolute', left: 0, top: 0, width: 1162, height: 663, overflow: 'hidden', background: '#fff' }}>
      {/* frame */}
      <div style={abs(8, 11, 1154, 16, { background: '#43709D' })} />
      <div style={abs(8, 11, 15, 652, { background: '#43709D' })} />
      <div style={abs(8, 654, 1154, 9, { background: '#43709D' })} />

      {/* formula text */}
      {FORMULA_LINES.map((t, i) => (
        <div key={i} style={abs(72, 45 + i * 19, 520, 16, { fontFamily: MONO, fontSize: 10.6, lineHeight: '16px', color: '#3a9d3a', whiteSpace: 'pre' })}>{t}</div>
      ))}
      <div style={abs(463, 43, 1, 38, { background: '#b5b5b5' })} />

      <TableArea />
      <ResidualStrip />
      <div style={abs(712, 28, 1, 92, { background: '#000' })} />

      {/* left title */}
      <div style={abs(40, 167, 570, 20, { fontFamily: CJK, fontSize: 15, lineHeight: '20px', color: '#000', textAlign: 'center', whiteSpace: 'nowrap' })}>{LEFT_TITLE}</div>

      <LeftChart />
      <RightChart />

      {/* crosshair guides */}
      <div style={abs(590, 0, 0, 663, { borderLeft: '1px dashed #9a9a9a', zIndex: 5 })} />
      <div style={abs(0, 341, 1162, 0, { borderTop: '1px dashed #9a9a9a', zIndex: 5 })} />
    </div>
  );
}
